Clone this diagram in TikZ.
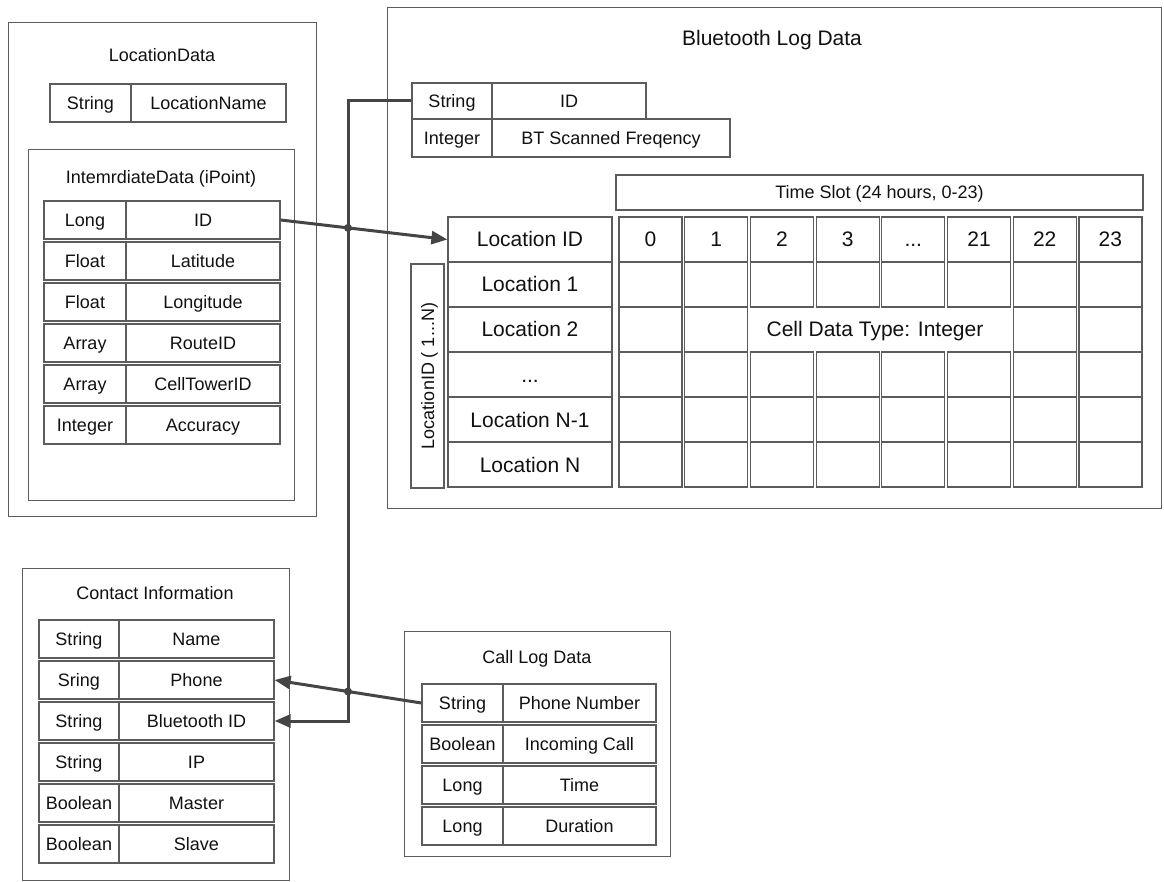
\documentclass[tikz,border=0pt]{standalone}
\usepackage{fontspec}
\setmainfont{Liberation Sans}
\usetikzlibrary{arrows.meta}

\definecolor{boxline}{HTML}{5C5C5C}
\definecolor{ink}{HTML}{111111}
\definecolor{wire}{HTML}{454545}

\newcommand\txtsmall{\fontsize{18}{20}\selectfont}
\newcommand\txtlarge{\fontsize{21}{24}\selectfont}
\newcommand\ellip{...}

\tikzset{
  panel/.style={draw=boxline, line width=1.2pt, anchor=north west, inner sep=0pt},
  title/.style={text=ink, font=\txtsmall, inner sep=1pt, text height=13pt, text depth=0pt},
  bigtitle/.style={text=ink, font=\txtlarge, inner sep=1pt, text height=15pt, text depth=0pt},
  cell/.style={draw=boxline, line width=1.2pt, inner sep=0pt, text=ink, font=\txtsmall,
               text height=13pt, text depth=0pt},
  gridcell/.style={draw=boxline, line width=1.2pt, inner sep=0pt, text=ink, font=\txtlarge,
                   minimum width=63pt, minimum height=45pt, text height=15pt, text depth=0pt},
  wire/.style={draw=wire, line width=3pt},
  tip/.style={-{Triangle[length=16pt,width=13pt]}},
  jump/.style={fill=wire},
}

% one record row: name, left x, top y, divider x, right x, height, type, field
\newcommand\datarow[8]{%
  \node[cell, minimum width={(#4-#2)*1pt}, minimum height={#6*1pt}]
    (#1-t) at ({(#2+#4)/2},{#3+#6/2}) {#7};
  \node[cell, minimum width={(#5-#4)*1pt}, minimum height={#6*1pt}]
    (#1-f) at ({(#4+#5)/2},{#3+#6/2}) {#8};
}

\begin{document}
\begin{tikzpicture}[x=1pt, y=-1pt]
\useasboundingbox[fill=white] (0,0) rectangle (1164,882);

% ---------------- LocationData ----------------
\node[panel, minimum width=308pt, minimum height=494pt] (locdata) at (8,22) {};
\node[title] (locdata-title) at (162,55) {LocationData};
\datarow{ld-name}{50}{84}{131}{286}{38}{String}{LocationName}

\node[panel, minimum width=266pt, minimum height=351pt] (ipoint) at (28,149) {};
\node[title] (ipoint-title) at (161,177) {IntemrdiateData (iPoint)};
\datarow{ip-id}{44}{201}{126}{280}{38}{Long}{ID}
\datarow{ip-lat}{44}{242}{126}{280}{38}{Float}{Latitude}
\datarow{ip-lon}{44}{283}{126}{280}{38}{Float}{Longitude}
\datarow{ip-route}{44}{324}{126}{280}{38}{Array}{RouteID}
\datarow{ip-cell}{44}{365}{126}{280}{38}{Array}{CellTowerID}
\datarow{ip-acc}{44}{406}{126}{280}{38}{Integer}{Accuracy}

% ---------------- Bluetooth Log Data ----------------
\node[panel, minimum width=774pt, minimum height=501pt] (btlog) at (387,7) {};
\node[bigtitle] (btlog-title) at (772,38) {Bluetooth Log Data};
\datarow{bt-id}{412}{83}{492}{646}{36}{String}{ID}
\datarow{bt-freq}{412}{119}{492}{730}{38}{Integer}{BT Scanned Freqency}

\node[cell, minimum width=527pt, minimum height=35pt] (timeslot) at (879.5,192.5)
  {Time Slot (24 hours, 0-23)};

\node[cell, minimum width=33pt, minimum height=224pt] (locrange) at (427.5,376) {};
\node[title, rotate=90] (locrange-text) at (locrange.center) {LocationID ( 1\ellip N)};

% location column
\foreach \lab [count=\r from 0] in {Location ID, Location 1, Location 2, \ellip, Location N-1, Location N}
  \node[gridcell, minimum width=164pt] (loc-\r) at (530,{239.5+45*\r}) {\lab};

% hour columns
\foreach \lab [count=\c from 0] in {0,1,2,3,\ellip,21,22,23} {
  \node[gridcell] (col\c-0) at ({650.5+65.7*\c},239.5) {\lab};
  \foreach \r in {1,...,5} {
    \pgfmathtruncatemacro\gap{(\c>1 && \c<6 && \r==2) ? 1 : 0}
    \ifnum\gap=0
      \node[gridcell] (col\c-\r) at ({650.5+65.7*\c},{239.5+45*\r}) {};
    \fi
  }
}
\node[bigtitle] (celltype) at (875,329) {Cell Data Type: Integer};

% ---------------- Contact Information ----------------
\node[panel, minimum width=267pt, minimum height=312pt] (contact) at (22,568) {};
\node[title] (contact-title) at (155,593) {Contact Information};
\datarow{ci-name}{39}{620}{119}{274}{38}{String}{Name}
\datarow{ci-ph}{39}{661}{119}{274}{38}{Sring}{Phone}
\datarow{ci-bt}{39}{702}{119}{274}{38}{String}{Bluetooth ID}
\datarow{ci-ip}{39}{743}{119}{274}{38}{String}{IP}
\datarow{ci-master}{39}{784}{119}{274}{38}{Boolean}{Master}
\datarow{ci-slave}{39}{825}{119}{274}{38}{Boolean}{Slave}

% ---------------- Call Log Data ----------------
\node[panel, minimum width=266pt, minimum height=225pt] (calllog) at (404,631) {};
\node[title] (calllog-title) at (537,657) {Call Log Data};
\datarow{cl-num}{422}{684}{503}{656}{38}{String}{Phone Number}
\datarow{cl-in}{422}{725}{503}{656}{38}{Boolean}{Incoming Call}
\datarow{cl-time}{422}{766}{503}{656}{38}{Long}{Time}
\datarow{cl-dur}{422}{807}{503}{656}{38}{Long}{Duration}

% ---------------- connectors ----------------
\coordinate (bus) at (348,400);
\coordinate (busT) at (348,60);
\coordinate (busB) at (348,760);

\draw[wire, tip] (ip-id-f.east) -- (loc-0.west);
\draw[wire, tip] (bt-id-t.west) -| (bus) |- (ci-bt-f.east);
\draw[wire, tip] (cl-num-t.west) -- (ci-ph-f.east);

\fill[jump] (intersection of ip-id-f.east--loc-0.west and busT--busB) circle (4pt);
\fill[jump] (intersection of cl-num-t.west--ci-ph-f.east and busT--busB) circle (4pt);
\end{tikzpicture}
\end{document}
